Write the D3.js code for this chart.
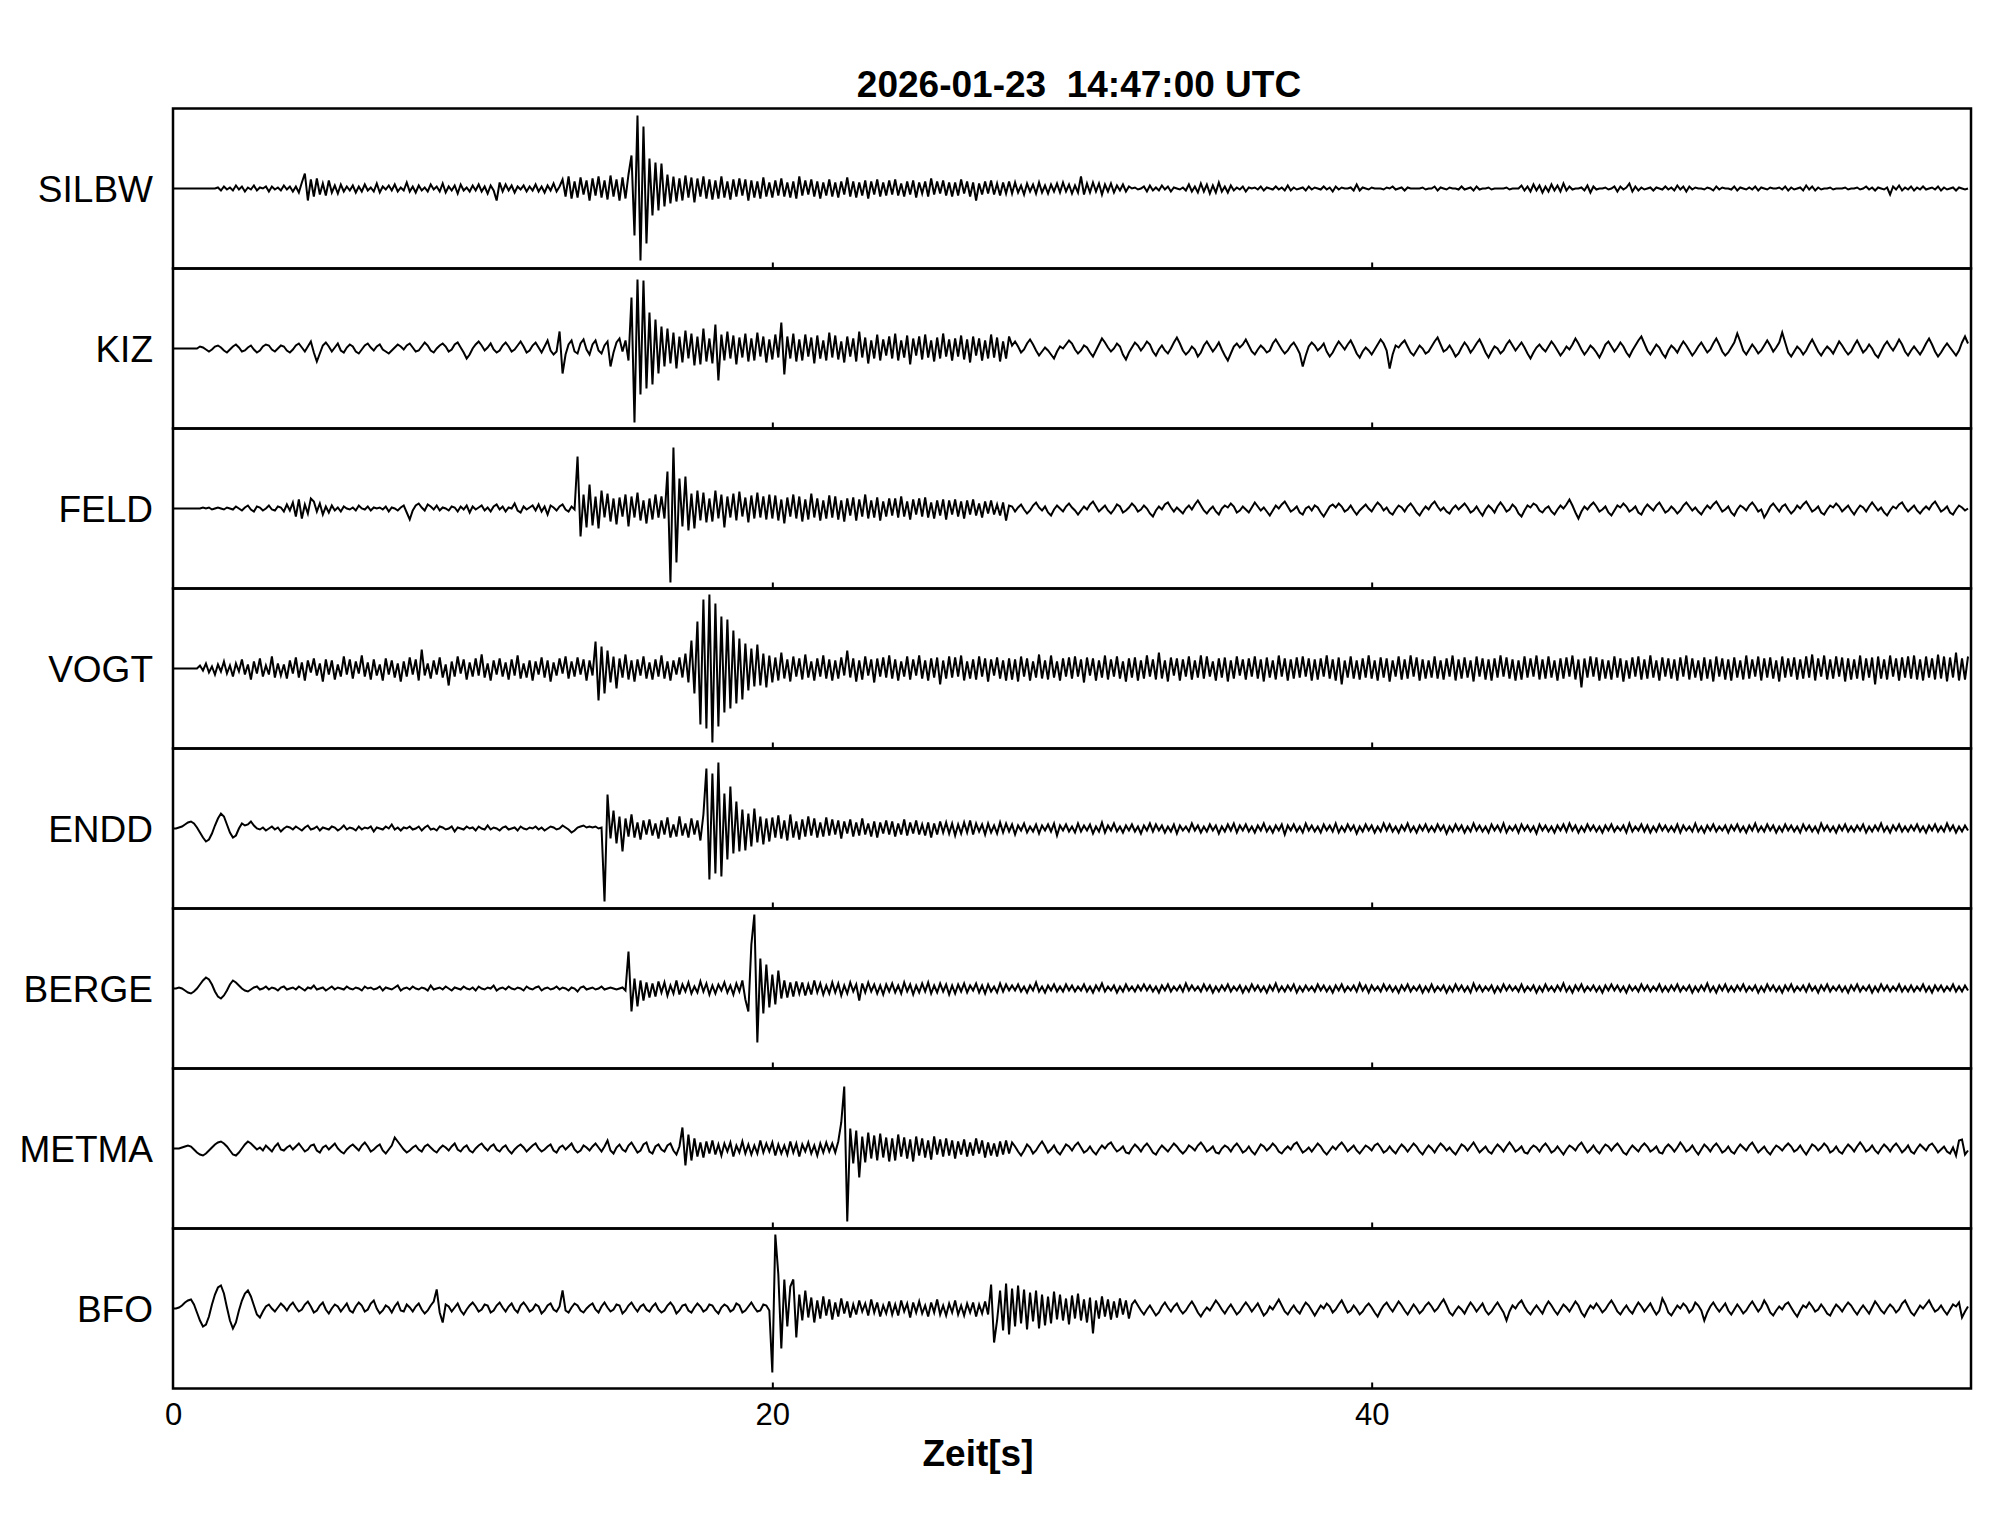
<!DOCTYPE html>
<html>
<head>
<meta charset="utf-8">
<script src="https://cdn.jsdelivr.net/npm/d3@7"></script>
<style>
  body { margin: 0; background: #fff; }
  svg { display: block; font-family: "Liberation Sans", Arial, sans-serif; }
</style>
</head>
<body>
<script>
// stations top to bottom
const stations = ['SILBW', 'KIZ', 'FELD', 'VOGT', 'ENDD', 'BERGE', 'METMA', 'BFO'];
const dt = 0.1;            // seconds per sample
const xTicks = [0, 20, 40];
const title = '2026-01-23  14:47:00 UTC';
const xLabel = 'Zeit[s]';

// amplitudes (relative units, + is up), one value every 0.1 s
const silbw = [
  0,0,0,0,0,0,0,0,0,0,0,0,0,0,0,1,-2,2,-1,1,
  -2,3,-1,2,-3,1,-1,3,-2,1,0,2,-3,2,-1,1,-2,3,-1,2,
  -3,2,-4,6,15,-12,9,-8,10,-6,5,-7,8,-4,3,-5,4,-3,2,-2,
  3,-4,2,-3,4,-2,1,-3,5,-4,2,-1,3,-2,4,-3,1,-2,6,-3,
  2,-4,3,-2,1,-3,4,-1,2,-3,5,-4,2,-2,3,-5,4,-2,1,-3,
  3,-2,4,-3,2,-5,3,-2,-12,6,-3,4,-2,3,-4,2,-1,3,-3,2,
  -2,4,-3,2,-4,3,-2,5,-3,2,9,-8,12,-10,7,-9,11,-6,8,-12,
  10,-7,12,-9,8,-11,13,-8,9,-12,11,-10,14,33,-47,73,-72,62,-55,30,
  -27,26,-22,25,-18,14,-15,12,-13,10,-12,13,-9,11,-14,10,-8,12,-10,9,
  -11,8,-10,12,-9,7,-11,9,-8,10,-7,9,-12,8,-9,7,-10,11,-8,6,
  -9,8,-7,10,-8,6,-9,7,-10,12,-7,8,-6,9,-8,7,-10,6,-7,9,
  -8,6,-9,7,-6,11,-8,7,-9,6,-7,8,-10,7,-6,9,-8,6,-7,8,
  -6,9,-7,5,-8,7,-6,8,-9,6,-5,7,-8,10,-6,7,-5,8,-7,6,
  -8,6,-7,9,-5,7,-8,6,-12,5,-6,7,-5,8,-6,5,-7,6,-5,7,
  -5,6,-4,3,-6,5,-3,4,-5,6,-4,3,-5,4,-3,5,-4,6,-3,4,
  -5,3,-4,12,-6,5,-4,6,-3,5,-6,4,-3,5,-4,3,-2,4,-3,2,
  0,1,-1,0,2,-3,3,-2,1,-2,3,-1,2,-3,1,0,-1,1,-2,4,
  -3,2,-4,5,-3,4,-5,3,-4,6,-3,2,-4,3,-2,1,-1,2,-3,1,
  0,1,-1,2,-2,1,0,-1,2,-1,1,-2,3,-2,1,-1,0,1,-2,2,
  -1,1,0,-1,2,-1,1,-3,2,-1,1,0,0,1,-2,4,-2,1,0,-1,
  1,0,0,0,-1,1,0,2,-1,0,1,-2,1,0,0,0,0,1,-1,0,
  0,2,-2,1,0,-1,1,0,0,-1,2,-1,0,1,-2,2,-1,0,0,1,
  -1,0,0,0,0,1,-1,0,0,0,3,-2,2,-3,4,-2,3,-4,2,-3,
  4,-2,3,-3,5,-2,2,-1,0,0,1,-2,3,-4,2,-1,0,0,1,-1,
  0,2,-3,2,-1,1,5,-3,2,-2,1,-1,0,1,-2,1,0,-1,2,-1,
  1,-2,3,-1,2,-3,2,-1,1,0,0,-1,1,0,-2,2,-1,1,0,0,
  -1,2,-2,1,0,-1,1,-1,2,-2,1,0,-1,1,0,0,1,-1,2,-2,
  1,-1,0,1,-2,3,-1,2,-2,1,-1,0,0,1,-1,0,0,0,1,-1,
  0,0,1,-1,0,2,-1,1,-2,1,0,-1,1,-6,2,-1,3,-2,1,-1,
  2,-2,1,-1,2,-1,0,1,-1,2,-2,1,-1,0,1,-2,1,0,-1,0
];
const kiz = [
  0,0,0,0,0,0,0,0,0,2,1,-1,-3,-1,2,3,1,-2,-4,-1,
  2,4,1,-3,-2,1,3,-1,-4,-2,2,4,3,-1,-3,0,3,2,-2,-4,
  -1,3,5,1,-3,2,7,-4,-13,-5,3,6,2,-3,1,5,-2,-4,1,4,
  2,-3,-5,-1,3,5,1,-2,2,4,-1,-3,-5,-2,1,4,2,-1,3,5,
  1,-3,-2,2,6,3,-2,-4,0,3,5,2,-3,-1,4,6,1,-4,-10,-6,
  0,4,7,3,-2,1,5,-1,-4,-2,3,6,2,-3,-1,3,7,2,-4,-2,
  3,6,1,-4,2,8,-2,-6,-3,17,-25,-6,4,8,-3,-5,5,9,-1,-6,
  4,8,-2,-5,3,7,-18,-4,6,10,-3,8,-12,51,-74,69,-46,68,-40,36,
  -36,29,-25,22,-18,20,-15,16,-20,12,-14,18,-10,15,-17,12,-16,20,-13,10,
  -15,24,-32,14,-12,17,-10,13,-16,11,-9,15,-13,10,-12,16,-8,12,-14,9,
  -11,14,-9,26,-26,12,-10,15,-13,9,-12,14,-8,11,-15,13,-10,8,-12,16,
  -9,13,-11,7,-14,12,-8,10,-13,17,-9,11,-15,8,-10,14,-12,9,-7,12,
  -10,15,-12,8,-9,13,-16,10,-7,12,-11,14,-9,8,-13,11,-10,15,-8,9,
  -12,10,-8,13,-11,9,-14,12,-7,10,-12,8,-10,14,-9,11,-13,7,-10,12,
  3,7,2,-4,-1,5,9,4,-2,-7,-3,1,-2,-6,-10,-3,2,0,4,8,
  5,-1,-5,-2,3,1,-4,-8,-2,4,10,6,1,-3,0,5,2,-6,-11,-4,
  1,6,3,-2,2,7,4,-3,-7,-1,3,-2,-5,0,6,11,5,-2,-6,-3,
  2,-1,-8,-4,3,7,2,-3,1,6,-1,-7,-12,-5,2,5,1,4,9,3,
  -3,-6,-1,3,0,-4,-2,5,9,4,-1,-5,-2,3,6,1,-5,-18,-7,2,
  6,3,-2,1,5,-3,-8,-4,2,7,3,-1,4,8,2,-5,-9,-3,1,-2,
  -6,-1,4,9,5,-2,-20,-6,3,1,5,8,2,-4,-7,-2,3,0,-5,-3,
  2,7,11,4,-3,-1,3,-2,-8,-5,1,6,2,-4,0,5,9,3,-4,-9,
  -3,2,0,-5,-2,4,8,3,-2,2,6,1,-5,-10,-4,1,4,0,-3,2,
  7,3,-2,-7,-3,2,-1,4,10,5,-1,-6,-2,3,0,-4,-9,-3,4,7,
  2,-3,1,6,2,-4,-8,-2,3,8,12,5,-2,-6,-1,4,1,-5,-9,-2,
  3,0,-4,2,7,3,-2,-7,-3,2,6,1,-4,-1,5,10,4,-3,-7,-4,
  1,6,15,7,-2,-6,-1,4,0,-5,-2,3,8,3,-3,1,6,16,6,-4,
  -8,-3,2,-1,-6,-2,4,9,3,-3,-7,-2,2,-1,-5,1,7,3,-2,-6,
  -3,3,8,2,-4,-1,4,0,-6,-9,-3,3,7,2,-2,3,9,4,-3,-7,
  -2,2,-2,-6,-1,5,10,4,-3,-8,-4,1,5,1,-3,-7,-2,6,12,5
];
const feld = [
  0,0,0,0,0,0,0,0,0,0,1,0,1,-1,0,1,0,-1,1,0,
  -1,2,0,-2,1,3,-1,-3,2,1,-2,0,3,-1,-2,2,1,-3,4,-2,
  6,-8,9,-10,4,-5,10,7,-3,5,-6,2,-4,3,-2,1,-3,2,0,-1,
  1,-2,3,0,-1,2,-2,1,0,1,-1,2,-3,1,0,-2,1,3,-4,-11,
  -2,3,5,1,-2,4,2,-1,3,-2,1,0,-2,2,1,-3,2,-1,3,-4,
  2,-1,1,3,-2,1,-3,2,4,-1,2,-3,1,0,5,-2,-4,2,-1,1,
  3,-2,4,-3,2,-6,3,1,-2,2,4,-1,-3,2,-1,52,-28,14,-19,24,
  -17,12,-20,18,-9,15,-13,10,-16,11,-8,14,-18,12,-9,16,-12,8,-15,10,
  -11,14,-9,12,-10,37,-74,61,-54,30,-18,32,-22,15,-20,18,-12,16,-14,10,
  -13,18,-10,14,-19,12,-9,15,-12,17,-8,11,-14,13,-10,16,-9,12,-11,14,
  -10,13,-12,9,-15,11,-8,14,-10,12,-13,9,-11,15,-9,10,-12,8,-10,13,
  -9,12,-11,8,-13,10,-7,11,-12,9,-8,14,-10,8,-9,11,-12,7,-8,10,
  -7,10,-9,12,-8,7,-11,9,-6,10,-8,11,-9,6,-10,8,-7,9,-11,8,
  -6,9,-8,7,-10,8,-6,9,-7,5,-9,7,-5,8,-6,4,-7,6,-12,3,
  2,-3,1,4,-1,-5,-2,3,6,1,-2,2,-4,-7,-1,3,0,-3,2,5,
  1,-2,-6,-2,2,-1,4,7,2,-3,0,3,-2,-5,-1,4,2,-4,-2,1,
  5,2,-3,-1,3,0,-5,-8,-2,2,-1,4,6,1,-3,1,-2,-5,0,3,
  -1,4,8,3,-2,-5,-1,2,-3,-6,0,3,1,5,2,-4,-2,2,-1,-4,
  1,6,2,-2,1,-3,-7,-2,3,0,4,7,2,-3,-1,2,-4,-6,0,2,
  -2,3,1,-4,-8,-3,2,4,1,5,2,-3,-1,3,-2,-6,-2,1,4,0,
  -3,2,6,3,-2,1,-4,-6,-1,3,1,-3,2,5,1,-4,-7,-2,2,-1,
  4,7,2,-2,1,-3,-5,0,3,-1,2,5,1,-4,-2,2,-3,-7,-1,3,
  0,-4,2,6,2,-3,-1,4,1,-5,-8,-2,3,1,5,3,-2,-4,0,2,
  -3,-6,-1,3,0,4,9,3,-4,-10,-3,2,-1,3,6,2,-3,-1,2,-4,
  -7,-2,3,1,5,2,-3,-1,2,-4,-6,0,4,1,-2,3,6,1,-4,-2,
  2,-1,-5,-2,3,6,2,-2,1,-3,-6,-1,3,0,4,7,2,-3,-1,2,
  -4,-7,-1,3,1,-2,3,6,2,-3,-1,-9,-4,2,5,1,-3,2,4,-1,
  -5,-2,3,0,4,7,2,-3,-1,2,-4,-6,-1,3,1,5,2,-3,0,3,
  -2,-6,-1,3,1,-3,2,6,2,-2,1,-4,-7,-2,2,0,4,6,1,-3,
  0,3,-2,-5,-1,2,-1,4,7,2,-3,-1,2,-4,-6,-1,3,1,-2,0
];
const vogt = [
  0,0,0,0,0,0,0,0,0,3,-2,5,-4,2,-6,4,-3,7,-5,3,
  -8,5,-3,9,-6,4,-11,7,-5,10,-8,3,-6,12,-9,5,-7,4,-10,8,
  -5,11,-9,6,-12,8,-4,10,-7,5,-13,9,-6,8,-11,4,-8,12,-6,9,
  -10,7,-5,13,-8,6,-11,9,-7,4,-12,10,-6,8,-9,5,-13,7,-8,11,
  -6,9,-12,19,-7,5,-10,8,-6,11,-9,4,-17,7,-8,12,-5,9,-11,6,
  -8,10,-7,14,-9,5,-12,8,-6,10,-8,6,-11,9,-7,13,-10,5,-9,8,
  -12,7,-6,11,-9,8,-13,6,-7,10,-5,12,-10,7,-8,11,-6,9,-12,8,
  -7,27,-32,22,-25,18,-14,12,-20,10,-9,14,-11,8,-13,9,-7,12,-10,6,
  -11,9,-8,13,-10,7,-12,8,-6,11,-9,15,-14,28,-25,47,-56,69,-60,74,
  -74,65,-58,52,-44,49,-40,38,-35,30,-31,25,-22,20,-18,24,-17,15,-19,13,
  -14,11,-12,16,-10,9,-13,12,-8,10,-11,14,-9,7,-12,10,-8,13,-10,9,
  -12,8,-10,11,-7,18,-9,10,-13,8,-11,12,-7,9,-14,10,-8,11,-9,13,
  -10,9,-12,7,-8,12,-11,9,-7,13,-10,8,-12,10,-9,11,-16,8,-10,12,
  -9,11,-8,13,-12,7,-10,9,-11,12,-8,10,-13,9,-7,11,-10,8,-12,10,
  -11,9,-13,12,-8,10,-12,7,-9,14,-10,8,-11,13,-9,7,-12,10,-8,11,
  -10,12,-8,9,-14,11,-7,10,-12,8,-9,13,-11,9,-8,12,-10,7,-13,10,
  -9,11,-12,8,-10,13,-8,9,-11,16,-10,8,-13,11,-7,10,-12,9,-8,12,
  -11,8,-9,13,-10,12,-8,7,-12,10,-9,11,-13,8,-10,12,-7,9,-11,10,
  -8,12,-10,9,-13,11,-9,8,-11,13,-8,10,-12,9,-10,11,-9,12,-8,10,
  -12,9,-11,10,-8,13,-10,9,-12,11,-16,8,-9,12,-10,8,-11,10,-9,13,
  -10,8,-12,11,-9,10,-13,8,-8,12,-11,9,-10,13,-8,11,-12,9,-10,8,
  -9,12,-10,8,-11,10,-8,13,-12,9,-10,11,-9,8,-13,12,-8,10,-11,9,
  -12,10,-9,13,-8,11,-10,9,-12,8,-11,12,-9,10,-8,13,-11,9,-10,12,
  -9,8,-12,10,-10,11,-8,13,-11,9,-19,10,-9,12,-8,11,-12,9,-10,8,
  -11,12,-9,10,-13,8,-10,11,-8,12,-11,9,-10,13,-9,8,-12,11,-8,10,
  -10,9,-12,11,-8,13,-11,10,-9,8,-12,11,-10,9,-13,12,-8,10,-11,9,
  -12,11,-9,8,-11,13,-10,9,-8,12,-12,10,-9,11,-10,8,-13,12,-9,10,
  -8,11,-11,9,-10,12,-9,14,-12,10,-8,13,-11,9,-10,12,-8,11,-13,10,
  -11,9,-10,13,-12,10,-9,11,-16,12,-10,9,-11,13,-8,10,-12,11,-9,12,
  -10,13,-11,9,-12,12,-9,10,-11,14,-10,12,-13,11,-9,16,-12,10,-11,12
];
const endd = [
  0,0,1,2,4,6,7,5,1,-4,-9,-13,-11,-5,3,10,15,12,4,-4,
  -9,-7,0,5,3,4,7,3,0,-1,1,-2,0,2,-1,1,-3,0,2,1,
  -1,2,0,-2,1,3,-1,0,2,-2,1,0,-1,2,1,-2,0,3,-1,1,
  0,-2,2,-1,1,0,2,-3,1,0,-1,2,0,4,-1,1,-2,1,0,2,
  -1,0,2,-2,1,3,-1,0,-2,2,1,-1,0,2,-3,1,0,-1,2,0,
  1,-2,2,0,-1,3,-1,1,0,-2,1,2,-1,0,1,-2,2,0,-1,1,
  0,2,-1,1,-2,0,2,1,-1,0,3,1,-1,-4,-2,1,2,3,1,2,
  1,2,0,1,-73,34,-10,18,-15,12,-23,10,-8,14,-9,6,-11,8,-6,9,
  -7,5,-10,8,-6,11,-9,4,-8,12,-7,5,-9,10,-6,8,-12,14,60,-51,
  55,-45,66,-48,35,-31,42,-25,27,-23,19,-22,15,-18,20,-14,12,-16,10,-13,
  11,-9,13,-10,8,-12,14,-9,7,-11,9,-8,12,-7,10,-9,6,-8,11,-7,
  9,-6,8,-10,7,-5,9,-8,6,-7,10,-6,5,-8,7,-9,6,-5,8,-6,
  7,-8,5,-6,9,-7,6,-5,8,-6,4,-7,6,-9,5,-6,7,-4,6,-5,
  5,-7,4,-5,6,-4,8,-6,5,-3,4,-6,5,-4,3,-5,6,-4,5,-3,
  4,-6,3,-2,5,-4,2,-3,4,-5,3,-2,4,-3,5,-7,3,-2,4,-3,
  2,-4,5,-3,3,-2,4,-5,2,-3,6,-4,3,-2,5,-3,2,-4,3,-2,
  4,-3,2,-5,3,-2,5,-3,4,-2,3,-4,2,-3,4,-5,3,-2,2,-3,
  5,-2,3,-4,2,-3,4,-2,3,-5,2,-3,4,-2,5,-4,3,-2,4,-3,
  2,-4,3,-2,5,-3,2,-4,3,-2,4,-6,3,-2,4,-3,2,-4,5,-2,
  3,-3,2,-4,4,-2,3,-3,5,-4,2,-3,4,-2,3,-5,2,-3,4,-2,
  3,-4,2,-3,5,-2,4,-3,2,-4,3,-2,5,-3,2,-4,3,-2,4,-3,
  2,-3,4,-2,3,-5,2,-3,4,-2,3,-4,2,-3,5,-2,3,-3,2,-4,
  4,-2,3,-3,5,-4,2,-2,3,-4,4,-2,3,-3,2,-5,4,-2,3,-3,
  2,-4,3,-2,4,-3,5,-2,3,-4,2,-3,4,-2,3,-3,2,-4,3,-2,
  4,-3,2,-2,3,-4,5,-3,2,-2,4,-3,3,-4,2,-3,4,-2,3,-3,
  2,-3,4,-4,3,-2,2,-3,5,-3,2,-4,3,-2,4,-3,2,-2,3,-4,
  3,-2,4,-3,2,-4,3,-2,5,-3,2,-3,4,-2,3,-4,2,-3,4,-2,
  3,-3,2,-4,4,-2,3,-3,2,-4,5,-2,3,-3,2,-4,3,-2,4,-3,
  2,-3,3,-2,4,-4,2,-3,3,-2,5,-3,2,-4,3,-2,4,-3,2,-3,
  3,-2,4,-3,2,-4,3,-2,4,-3,2,-3,5,-2,3,-4,2,-3,3,-2
];
const berge = [
  0,0,1,0,-2,-4,-5,-3,0,4,8,11,9,4,-3,-8,-10,-7,-2,4,
  8,6,3,0,-2,-3,-1,1,2,-1,0,2,-1,1,0,-2,1,2,-1,0,
  1,-1,2,0,-2,1,0,3,-1,0,1,-2,0,2,-1,1,0,-1,2,0,
  -1,1,0,-2,2,0,1,-1,0,2,-2,1,0,-1,1,3,-2,0,1,-1,
  2,0,-1,1,0,-2,3,-1,0,1,-1,2,0,-2,1,0,-1,2,0,-1,
  1,-2,2,0,-1,1,0,3,-2,0,1,-1,2,0,-1,1,0,-2,2,0,
  -1,1,2,-2,0,1,-1,0,2,-1,1,0,-2,1,0,-3,1,2,-1,0,
  1,-1,0,2,-1,0,1,0,-1,0,1,-2,37,-23,10,-18,8,-12,6,-9,
  5,-8,7,-4,6,-7,3,-5,8,-6,4,-3,6,-5,2,-4,7,-3,5,-6,
  3,-5,4,-2,6,-4,3,-6,5,-3,8,-11,-23,44,74,-54,30,-25,24,-19,
  14,-16,18,-10,8,-9,6,-8,7,-5,6,-7,4,-6,8,-4,5,-6,3,-5,
  6,-4,5,-7,3,-5,6,-3,4,-12,5,-4,6,-3,4,-5,3,-6,4,-3,
  5,-4,3,-5,6,-3,4,-6,3,-4,5,-3,6,-5,3,-4,5,-3,4,-6,
  3,-5,4,-3,5,-4,3,-2,5,-4,3,-5,4,-3,2,-4,5,-3,4,-2,
  3,-2,4,-3,2,-4,3,-2,6,-3,2,-4,3,-2,4,-3,2,-3,4,-2,
  3,-3,2,-2,4,-3,2,-4,3,-2,5,-3,2,-2,3,-4,2,-3,4,-2,
  2,-3,3,-2,4,-2,3,-3,2,-4,3,-2,4,-3,2,-2,3,-3,5,-2,
  3,-2,2,-3,4,-2,3,-4,2,-3,3,-2,4,-3,2,-2,3,-4,2,-3,
  4,-2,3,-3,2,-4,3,-2,5,-3,2,-3,3,-2,4,-4,2,-3,3,-2,
  2,-3,4,-2,3,-3,2,-4,3,-2,4,-3,2,-2,3,-3,5,-2,3,-4,
  3,-2,2,-3,4,-2,3,-3,2,-4,3,-2,4,-3,2,-2,3,-4,2,-3,
  4,-3,2,-2,3,-4,2,-3,4,-2,3,-3,2,-4,5,-2,3,-3,2,-2,
  3,-4,2,-3,4,-2,3,-2,2,-3,4,-3,2,-2,3,-4,2,-3,4,-2,
  2,-3,3,-2,5,-3,2,-4,3,-2,4,-3,2,-2,3,-3,2,-4,3,-2,
  4,-2,3,-3,2,-4,3,-2,2,-3,4,-2,3,-3,2,-2,4,-3,2,-3,
  3,-2,4,-3,2,-2,3,-4,2,-3,3,-2,5,-3,2,-4,3,-2,4,-3,
  2,-3,3,-2,4,-3,2,-2,3,-4,2,-3,4,-2,3,-3,2,-4,3,-2,
  4,-3,2,-2,3,-3,4,-2,2,-4,3,-2,4,-3,2,-2,3,-3,2,-4,
  3,-2,4,-3,2,-2,3,-4,2,-3,4,-2,3,-3,2,-2,4,-3,2,-3,
  3,-3,2,-2,4,-3,2,-4,3,-2,3,-3,2,-2,4,-3,2,-3,3,-2
];
const metma = [
  0,0,0,1,2,3,2,-1,-4,-6,-7,-5,-2,1,4,6,7,5,2,-2,
  -6,-7,-4,0,4,7,5,2,-1,1,-2,3,0,-3,2,5,-1,-2,1,3,
  -1,2,5,1,-3,-1,3,4,-2,-4,1,3,-1,2,5,0,-3,-5,-1,2,
  4,1,-2,3,6,2,-3,-1,2,4,-2,-5,-1,3,11,7,3,-1,-4,-2,
  1,3,-1,-3,2,4,1,-2,-4,0,3,1,-2,2,5,-1,-3,1,3,-2,
  -4,0,3,5,1,-2,2,4,-1,-3,1,3,-2,-5,-1,2,4,1,-3,0,
  3,5,0,-3,-1,2,4,-2,-4,1,3,-1,2,5,-1,-4,-2,3,1,-2,
  2,5,1,-3,2,8,-2,-5,1,4,-1,-3,3,6,1,-4,-2,4,6,-3,
  -5,2,4,-1,-3,3,5,-2,-6,2,21,-17,14,-12,10,-8,6,-9,7,-5,
  8,-6,4,-7,5,-3,6,-8,3,-4,7,-5,4,-6,3,-5,8,-4,5,-3,
  6,-7,4,-5,3,-6,7,-4,5,-8,4,-3,6,-5,3,-7,5,-4,6,-3,
  5,-4,7,26,62,-73,20,-15,18,-29,12,-14,16,-10,13,-12,15,-9,11,-13,
  10,-12,14,-8,11,-10,9,-13,12,-7,10,-9,8,-11,12,-6,9,-8,10,-7,
  8,-10,7,-6,9,-8,6,-7,10,-5,8,-9,6,-7,5,-8,7,-6,8,-5,
  6,2,-3,-7,-2,4,1,-5,-2,3,7,2,-4,-1,3,-3,-6,-1,4,2,
  -2,3,6,1,-4,-2,2,-3,-6,-1,3,0,4,6,1,-3,-1,2,-4,-5,
  0,4,1,-3,2,5,1,-4,-6,-1,3,0,-3,1,5,2,-2,-5,-2,3,
  1,-2,3,6,2,-3,-1,2,-4,-5,0,3,1,-3,2,5,1,-4,-2,2,
  -3,-6,-1,4,2,-2,1,5,2,-3,-5,-1,2,-1,4,6,1,-4,-2,1,
  -3,1,5,2,-3,-6,-2,2,-1,3,6,2,-3,0,3,-2,-5,-1,3,1,
  -2,3,5,1,-4,-2,2,-2,-5,0,4,1,-3,1,5,2,-3,-6,-1,3,
  0,-4,1,5,2,-2,1,-3,-6,-1,4,2,-2,2,6,1,-4,-1,2,-3,
  -5,0,4,1,-3,2,6,2,-3,-1,2,-4,-5,0,3,1,-3,2,5,1,
  -4,-2,2,-2,-6,-1,3,1,-2,3,6,1,-4,-1,3,-2,-5,0,4,2,
  -2,2,5,1,-4,-6,-1,3,0,-3,2,5,2,-3,-1,2,-4,-5,1,4,
  1,-3,1,6,2,-3,-1,3,-2,-6,-1,4,1,-3,2,5,1,-4,-2,2,
  -3,-5,0,4,1,-2,3,6,1,-4,-1,2,-3,-6,-1,3,1,-2,2,5,
  2,-3,-1,3,-2,-6,-1,4,2,-2,1,5,2,-4,-2,2,-3,-5,0,4,
  1,-3,2,6,2,-3,-1,3,-2,-5,0,4,1,-3,2,5,1,-4,-1,3,
  -3,-5,0,4,1,-2,3,5,1,-4,-1,2,-3,-5,1,-7,8,9,-6,-2
];
const bfo = [
  0,0,1,3,6,8,9,4,-4,-12,-18,-16,-8,4,14,21,23,15,1,-12,
  -20,-14,-2,8,15,18,12,3,-6,-9,-3,2,4,0,-3,1,5,2,-2,3,
  6,1,-3,-1,4,7,2,-4,-2,3,6,-1,-5,0,4,2,-3,1,5,-2,
  -4,2,6,3,-3,-1,5,8,0,-5,-2,3,1,-4,2,6,-2,-3,4,1,
  -3,2,5,-1,-5,-2,3,7,19,-4,-14,4,2,-3,1,5,-2,-6,-1,3,
  6,2,-3,-1,4,3,-4,-2,3,6,1,-3,2,5,-1,-4,3,6,2,-3,
  -1,4,2,-5,-2,3,5,-1,-3,2,18,-2,-4,1,5,3,-2,-4,0,3,
  5,-1,-4,2,6,1,-3,-1,4,3,-5,-2,3,6,1,-3,2,4,-1,-3,
  2,5,-1,-4,-2,3,6,2,-5,-2,3,4,-2,-4,1,5,2,-3,-1,4,
  3,-2,-5,1,4,2,-3,-1,5,3,-4,-2,2,6,1,-3,-2,4,3,-2,
  -64,74,34,-40,29,-18,22,29,-29,14,-12,18,-9,11,-14,8,-10,12,-7,9,
  -11,6,-8,10,-5,7,-9,4,-6,8,-3,5,-7,9,-4,6,-8,3,-5,7,
  -6,4,-7,8,-3,5,-9,6,-4,7,-5,3,-8,6,-4,9,-6,3,-7,5,
  -4,8,-6,3,-7,5,-4,6,-8,4,-5,7,-6,24,-34,-12,18,-22,25,-26,
  20,-18,23,-15,19,-21,16,-13,18,-20,14,-17,12,-15,17,-11,14,-12,10,-16,
  13,-10,15,-12,9,-14,11,-25,8,-10,12,-8,9,-11,7,-9,10,-6,8,-10,
  4,8,3,-2,-6,-1,3,-2,-7,-4,2,6,1,-3,2,5,-1,-5,-2,3,
  7,2,-4,-8,-3,1,-2,3,8,4,-1,-5,0,4,-1,-6,-3,2,6,2,
  -3,1,5,-1,-7,-4,2,-1,4,9,3,-3,-6,-1,3,-2,-5,1,6,3,
  -2,-7,-2,3,0,5,2,-4,-1,4,8,2,-4,-2,3,-1,-6,-3,2,5,
  1,-4,-8,-2,3,6,1,-3,2,7,3,-2,-6,-1,4,0,-5,-2,3,6,
  2,-3,0,5,9,3,-4,-7,-2,2,-1,-5,1,6,2,-3,1,5,-2,-6,
  -3,2,6,1,-4,-12,-3,3,0,5,8,2,-3,-6,-1,3,-1,-5,2,7,
  3,-2,-6,-1,4,1,-3,2,7,3,-4,-8,-2,3,0,5,1,-4,-1,4,
  8,3,-3,-6,-1,3,-2,-5,1,6,2,-3,1,5,-1,-6,-2,10,4,-4,
  -7,-2,3,0,5,2,-4,-1,6,3,-2,-12,-4,2,6,1,-3,1,5,-2,
  -6,-1,4,0,-5,-2,3,7,2,-3,1,8,3,-4,-7,-2,2,-1,4,6,
  1,-4,-8,-2,3,1,6,2,-3,-1,4,0,-5,-7,-1,4,1,-3,2,6,
  3,-2,-6,-1,3,-1,-5,1,7,3,-2,-5,0,4,1,-4,-1,5,8,2,
  -4,-7,-2,3,0,4,8,2,-3,-1,3,-2,-6,-1,4,2,6,-9,-3,2
];

const traces = [silbw, kiz, feld, vogt, endd, berge, metma, bfo];

const width = 2005;
const height = 1522;
const plotLeft = 173, plotRight = 1971, plotTop = 108.5, plotBottom = 1388.5;

const svg = d3.select('body').append('svg').attr('width', width).attr('height', height);
svg.append('rect').attr('width', width).attr('height', height).attr('fill', '#fff');

const xScale = d3.scaleLinear().domain([0, 60]).range([plotLeft, plotRight]);
const band = d3.scaleBand().domain(stations).range([plotTop, plotBottom]);
const bh = band.bandwidth();
const yScale = d3.scaleLinear().domain([-80, 80]).range([bh, 0]);

const line = d3.line()
  .x((d, i) => xScale(i * dt))
  .y(d => yScale(d));

stations.forEach((name, k) => {
  const g = svg.append('g').attr('transform', `translate(0,${band(name)})`);

  g.append('path')
    .datum(traces[k])
    .attr('d', line)
    .attr('fill', 'none')
    .attr('stroke', '#000')
    .attr('stroke-width', 2)
    .attr('stroke-linejoin', 'miter');

  // small ticks on each panel bottom
  const tk = g.append('g').attr('transform', `translate(0,${bh})`)
    .call(d3.axisBottom(xScale).tickValues([20, 40]).tickSizeInner(-6).tickSizeOuter(0).tickFormat(''));
  tk.select('.domain').remove();
  tk.selectAll('line').attr('stroke-width', 2);

  g.append('rect')
    .attr('x', plotLeft).attr('y', 0)
    .attr('width', plotRight - plotLeft).attr('height', bh)
    .attr('fill', 'none').attr('stroke', '#000').attr('stroke-width', 2.5);

  g.append('text')
    .attr('x', 153).attr('y', yScale(0) + 13)
    .attr('text-anchor', 'end')
    .attr('font-size', 37)
    .text(name);
});

// bottom axis labels
const xAxis = svg.append('g').attr('transform', `translate(0,${plotBottom})`)
  .call(d3.axisBottom(xScale).tickValues(xTicks).tickSizeInner(0).tickSizeOuter(0).tickPadding(14));
xAxis.select('.domain').remove();
xAxis.attr('font-family', null).attr('font-size', null);
xAxis.selectAll('text').attr('font-size', 31).attr('fill', '#000');

svg.append('text')
  .attr('x', 1079).attr('y', 97)
  .attr('text-anchor', 'middle')
  .attr('font-size', 37).attr('font-weight', 'bold')
  .style('white-space', 'pre')
  .text(title);

svg.append('text')
  .attr('x', 978).attr('y', 1466)
  .attr('text-anchor', 'middle')
  .attr('font-size', 37).attr('font-weight', 'bold')
  .text(xLabel);
</script>
</body>
</html>
